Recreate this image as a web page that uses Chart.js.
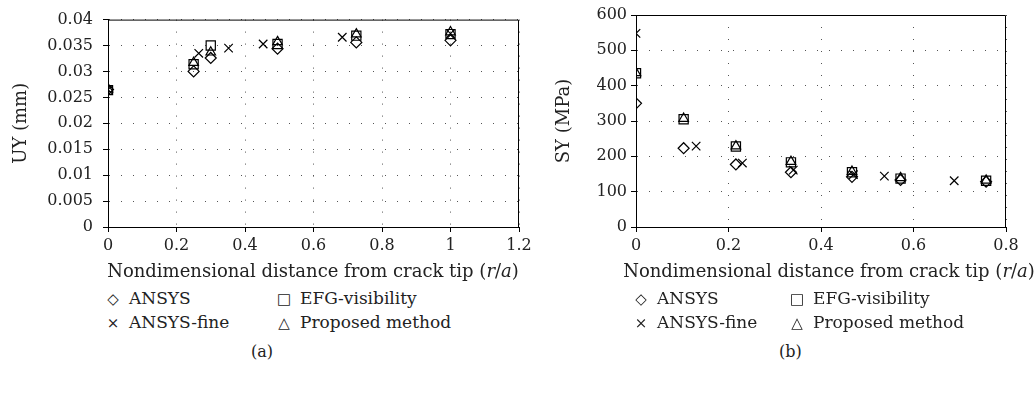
<!DOCTYPE html>
<html>
<head>
<meta charset="utf-8">
<script src="https://cdn.jsdelivr.net/npm/chart.js@4/dist/chart.umd.min.js"></script>
<style>
  body { margin: 0; width: 1036px; height: 404px; position: relative; overflow: hidden; background: #fff;
         font-family: 'DejaVu Serif', serif; color: #222; }
  canvas { position: absolute; top: 0; }
  #uy-chart { left: 0; }
  #sy-chart { left: 520px; }
  .legend-item { position: absolute; white-space: nowrap; font-size: 17px; line-height: 20px; }
  .mark { display: inline-block; width: 14px; text-align: center; margin-right: 9px; font-size: 15px; }
  .xtitle { position: absolute; top: 260px; width: 460px; text-align: center; font-size: 18px; line-height: 22px; white-space: nowrap; }
  .cap { position: absolute; top: 342px; font-size: 16px; }
</style>
</head>
<body>
<canvas id="uy-chart" width="545" height="287"></canvas>
<canvas id="sy-chart" width="516" height="287"></canvas>
<div class="xtitle" style="left:83px">Nondimensional distance from crack tip (<i>r</i>/<i>a</i>)</div>
<div class="xtitle" style="left:599px">Nondimensional distance from crack tip (<i>r</i>/<i>a</i>)</div>
<div id="uy-legend"></div>
<div id="sy-legend"></div>
<div class="cap" style="left:251px">(a)</div>
<div class="cap" style="left:779px">(b)</div>
<script>
const seriesNames = ['ANSYS', 'ANSYS-fine', 'EFG-visibility', 'Proposed method'];
const seriesStyles = ['rectRot', 'crossRot', 'rect', 'triangle'];
const seriesMarks = ['\u25C7', '\u00D7', '\u25A1', '\u25B3'];

// (a) UY
const uyAnsysX = [0, 0.25, 0.30, 0.495, 0.725, 1.0];
const uyAnsys = [0.0265, 0.0300, 0.0326, 0.0344, 0.0356, 0.0360];
const uyFineX = [0, 0.265, 0.352, 0.453, 0.684, 1.0];
const uyFine = [0.0265, 0.0335, 0.0345, 0.0353, 0.0366, 0.0373];
const uyEfgX = [0, 0.25, 0.30, 0.495, 0.725, 1.0];
const uyEfg = [0.0264, 0.0314, 0.0350, 0.0353, 0.0369, 0.0372];
const uyPropX = [0, 0.25, 0.30, 0.495, 0.725, 1.0];
const uyProp = [0.0266, 0.0317, 0.0337, 0.0357, 0.0372, 0.0376];
const uyXTicks = [0, 0.2, 0.4, 0.6, 0.8, 1, 1.2];
const uyYTicks = [0, 0.005, 0.01, 0.015, 0.02, 0.025, 0.03, 0.035, 0.04];

// (b) SY
const syAnsysX = [0, 0.103, 0.216, 0.335, 0.467, 0.572, 0.757];
const syAnsys = [350, 223, 177, 155, 142, 133, 128];
const syFineX = [0, 0.13, 0.23, 0.34, 0.47, 0.537, 0.688];
const syFine = [548, 229, 181, 161, 148, 144, 131];
const syEfgX = [0, 0.103, 0.216, 0.335, 0.467, 0.572, 0.757];
const syEfg = [435, 305, 228, 183, 155, 137, 131];
const syPropX = [0, 0.103, 0.216, 0.335, 0.467, 0.572, 0.757];
const syProp = [436, 307, 229, 185, 157, 139, 132];
const syXTicks = [0, 0.2, 0.4, 0.6, 0.8];
const syYTicks = [0, 100, 200, 300, 400, 500, 600];

Chart.defaults.font.family = "'DejaVu Serif', serif";
Chart.defaults.font.size = 16;
Chart.defaults.color = '#222';

const frame = {
  id: 'frame',
  beforeDatasetsDraw(chart) {
    const {ctx, chartArea: a} = chart;
    ctx.save();
    ctx.strokeStyle = '#000';
    ctx.lineWidth = 1;
    ctx.beginPath();
    ctx.moveTo(a.left, a.top + 0.5);
    ctx.lineTo(a.right - 0.5, a.top + 0.5);
    ctx.lineTo(a.right - 0.5, a.bottom);
    ctx.stroke();
    ctx.restore();
  }
};

function makeSets(xs, ys) {
  return xs.map((xArr, i) => ({
    label: seriesNames[i],
    data: xArr.map((x, j) => ({x: x, y: ys[i][j]})),
    pointStyle: seriesStyles[i],
    pointRadius: seriesStyles[i] === 'rect' ? 6.5 : (seriesStyles[i] === 'crossRot' ? 6 : 5.5),
    pointBorderColor: '#000',
    pointBackgroundColor: 'rgba(0,0,0,0)',
    pointBorderWidth: 1.2,
    showLine: false
  }));
}

function axis(ticks, min, max, pad, extra) {
  return Object.assign({
    type: 'linear',
    min: min,
    max: max,
    afterBuildTicks: s => { s.ticks = ticks.map(v => ({value: v})); },
    ticks: { callback: v => String(+v.toFixed(3)), color: '#222', autoSkip: false, maxRotation: 0, padding: pad },
    grid: { color: '#555', lineWidth: 1, tickLength: 5, tickColor: '#000' },
    border: { color: '#000', width: 1, dash: [1, 11] }
  }, extra);
}

function makeChart(id, sets, xTicks, yTicks, xMax, yMax, yTitle, yWidth, yTitlePad, yTickPad, padRight) {
  return new Chart(document.getElementById(id), {
    type: 'scatter',
    data: { datasets: sets },
    options: {
      responsive: false,
      animation: false,
      layout: { padding: { top: 15, right: padRight, left: 0, bottom: 0 } },
      plugins: { legend: { display: false }, tooltip: { enabled: false } },
      scales: {
        x: axis(xTicks, 0, xMax, 4, {
          afterFit: s => { s.height = 60; }
        }),
        y: axis(yTicks, 0, yMax, yTickPad, {
          afterFit: s => { s.width = yWidth; },
          title: { display: true, text: yTitle, font: { size: 18 }, color: '#222',
                   padding: { top: yTitlePad, bottom: 0 } }
        })
      }
    },
    plugins: [frame]
  });
}

function buildLegend(chart, elId, cols, rows) {
  const el = document.getElementById(elId);
  chart.data.datasets.forEach((ds, i) => {
    const item = document.createElement('div');
    item.className = 'legend-item';
    item.style.left = cols[Math.floor(i / 2)] + 'px';
    item.style.top = rows[i % 2] + 'px';
    item.innerHTML = '<span class="mark">' + seriesMarks[seriesStyles.indexOf(ds.pointStyle)] + '</span>' + ds.label;
    el.appendChild(item);
  });
}

const uyChart = makeChart('uy-chart',
  makeSets([uyAnsysX, uyFineX, uyEfgX, uyPropX], [uyAnsys, uyFine, uyEfg, uyProp]),
  uyXTicks, uyYTicks, 1.2, 0.04, 'UY (mm)', 108, 11, 10, 26);
const syChart = makeChart('sy-chart',
  makeSets([syAnsysX, syFineX, syEfgX, syPropX], [syAnsys, syFine, syEfg, syProp]),
  syXTicks, syYTicks, 0.8, 600, 'SY (MPa)', 116, 34, 4, 30);

buildLegend(uyChart, 'uy-legend', [106, 277], [288, 312]);
buildLegend(syChart, 'sy-legend', [634, 790], [288, 312]);
</script>
</body>
</html>
